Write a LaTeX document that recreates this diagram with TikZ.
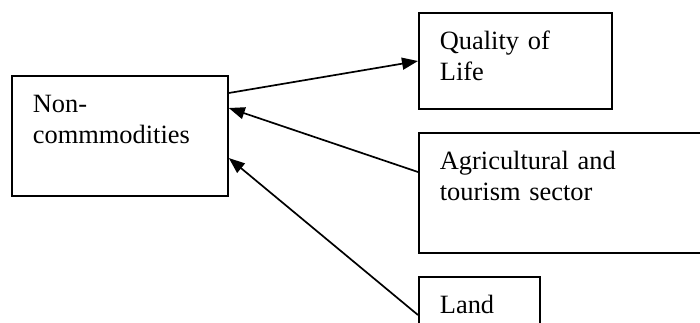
\documentclass[tikz,border=0pt]{standalone}
\usepackage{fontspec}
\setmainfont{Liberation Serif}
\usetikzlibrary{arrows.meta}

\begin{document}
\begin{tikzpicture}[x=1pt,y=-1pt,
        box/.style={draw,line width=1.8pt,anchor=north west,align=left,
            inner xsep=21pt,inner ysep=16pt,text height=21pt,
            font=\fontsize{26.4pt}{30.5pt}\selectfont},
        arr/.style={line width=1.7pt,-{Triangle[length=16pt,width=12pt]}}]
        \useasboundingbox (0,0) rectangle (700,322);
        \node[box,text width=174pt,text depth=67pt] (noncomm) at (11,75) {Non-\\commmodities};
        \node[box,text width=151pt,text depth=43pt] (quality) at (418,12) {Quality of\\Life};
        \node[box,text width=258pt,text depth=67pt] (agri) at (418,132) {Agricultural and\\tourism sector};
        \node[box,text width=79pt,text depth=27pt] (land) at (418,276) {Land};
        \draw[arr] ([yshift=-18pt]noncomm.north east) -- ([yshift=-49pt]quality.north west);
        \draw[arr] ([yshift=-40pt]agri.north west) -- ([yshift=-33pt]noncomm.north east);
        \draw[arr] ([yshift=-39pt]land.north west) -- ([yshift=-83pt]noncomm.north east);
    \end{tikzpicture}
\end{document}
